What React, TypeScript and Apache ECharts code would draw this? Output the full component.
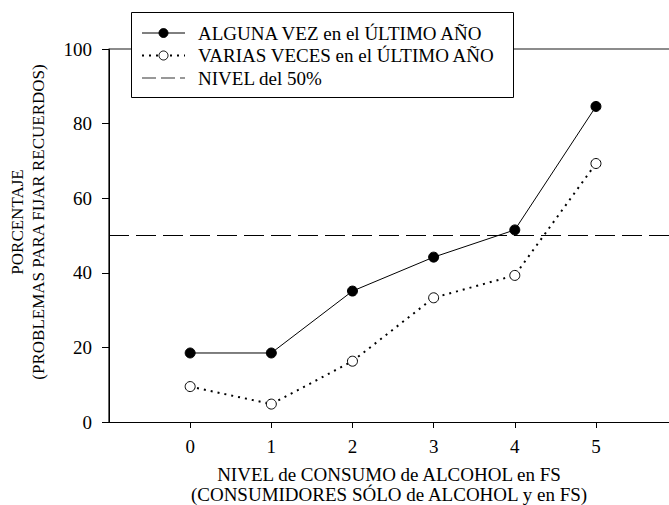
import React, { useEffect, useRef } from "react";
import * as echarts from "echarts";

const categories = [0, 1, 2, 3, 4, 5];
const algunaVez = [18.5, 18.5, 35.1, 44.2, 51.5, 84.6];
const variasVeces = [9.5, 4.8, 16.3, 33.3, 39.3, 69.3];
const nivel = 50;
const yTicks = [0, 20, 40, 60, 80, 100];
const seriesNames = [
  "ALGUNA VEZ en el ÚLTIMO AÑO",
  "VARIAS VECES en el ÚLTIMO AÑO",
  "NIVEL del 50%",
];
const xTitle = "NIVEL de CONSUMO de ALCOHOL en FS\n(CONSUMIDORES SÓLO de ALCOHOL y en FS)";
const yTitle = "PORCENTAJE\n(PROBLEMAS PARA FIJAR RECUERDOS)";

const FAMILY = "Liberation Serif";
const f = (size: number) => `${size}px ${FAMILY}`;

export default function App() {
  const ref = useRef<HTMLDivElement>(null);
  useEffect(() => {
    if (!ref.current) return;
    const chart = echarts.init(ref.current, undefined, { renderer: "svg" });
    const xMin = -1;
    const xMax = 5.9;
    chart.setOption({
      animation: false,
      backgroundColor: "#fff",
      textStyle: { fontFamily: FAMILY, color: "#000" },
      grid: { left: 109, right: 0, top: 49, bottom: 83, containLabel: false },
      xAxis: [
        {
          type: "value",
          min: xMin,
          max: xMax,
          axisLine: { show: true, onZero: false, lineStyle: { color: "#000", width: 1 } },
          axisTick: { show: true, length: 6, customValues: categories, lineStyle: { color: "#000" } },
          axisLabel: { show: false },
          splitLine: { show: false },
        },
        {
          type: "value",
          position: "top",
          min: xMin,
          max: xMax,
          axisLine: { show: true, onZero: false, lineStyle: { color: "#666", width: 1.5 } },
          axisTick: { show: false },
          axisLabel: { show: false },
          splitLine: { show: false },
        },
      ],
      yAxis: {
        type: "value",
        position: "left",
        min: yTicks[0],
        max: yTicks[yTicks.length - 1],
        interval: 20,
        axisLine: { show: true, onZero: false, lineStyle: { color: "#000", width: 1 } },
        axisTick: { show: true, length: 7, lineStyle: { color: "#000" } },
        axisLabel: { show: false },
        splitLine: { show: false },
      },
      series: [
        {
          name: seriesNames[0],
          type: "line",
          data: categories.map((c, i) => [c, algunaVez[i]]),
          symbol: "circle",
          symbolSize: 10,
          itemStyle: { color: "#000", borderColor: "#000", borderWidth: 1 },
          lineStyle: { color: "#000", width: 1 },
          z: 3,
        },
        {
          name: seriesNames[1],
          type: "line",
          data: categories.map((c, i) => [c, variasVeces[i]]),
          symbol: "circle",
          symbolSize: 10,
          itemStyle: { color: "#fff", borderColor: "#000", borderWidth: 1 },
          lineStyle: { color: "#000", width: 2, type: [2, 5] },
          z: 3,
        },
        {
          name: seriesNames[2],
          type: "line",
          data: [],
          symbol: "none",
          lineStyle: { color: "#000", width: 1, type: [20, 7] },
          markLine: {
            silent: true,
            symbol: "none",
            label: { show: false },
            lineStyle: { color: "#000", width: 1, type: [20, 7] },
            data: [{ yAxis: nivel }],
          },
        },
      ],
    });

    const finder = { xAxisIndex: 0, yAxisIndex: 0 };
    const [axisX, axisY] = chart.convertToPixel(finder, [xMin, yTicks[0]]) as number[];
    const [rightX, topY] = chart.convertToPixel(finder, [xMax, yTicks[yTicks.length - 1]]) as number[];

    const tickLabels: any[] = [];
    yTicks.forEach((v) => {
      const [, py] = chart.convertToPixel(finder, [xMin, v]) as number[];
      tickLabels.push({
        type: "text",
        x: axisX - 17,
        y: py,
        z: 10,
        style: { text: String(v), font: f(19), fill: "#000", align: "right", verticalAlign: "middle" },
      });
    });
    categories.forEach((c) => {
      const [px] = chart.convertToPixel(finder, [c, yTicks[0]]) as number[];
      tickLabels.push({
        type: "text",
        x: px,
        y: axisY + 24,
        z: 10,
        style: { text: String(c), font: f(19), fill: "#000", align: "center", verticalAlign: "middle" },
      });
    });

    const yAxisLine = {
      type: "rect",
      z: 15,
      shape: { x: Math.round(axisX) - 0.6, y: topY, width: 1.2, height: axisY - topY },
      style: { fill: "#000", stroke: "none" },
    };

    // legend box
    const lx = 131;
    const ly = 12;
    const rowY = [33, 55.5, 78];
    const sx0 = 142;
    const sx1 = 185;
    const sm = (sx0 + sx1) / 2;
    const tx = 198;
    const legend: any[] = [
      {
        type: "rect",
        z: 20,
        shape: { x: lx + 0.5, y: ly + 0.5, width: 382, height: 85 },
        style: { fill: "#fff", stroke: "#000", lineWidth: 1 },
      },
      {
        type: "line",
        z: 21,
        shape: { x1: sx0, y1: rowY[0], x2: sx1, y2: rowY[0] },
        style: { stroke: "#000", lineWidth: 1 },
      },
      {
        type: "circle",
        z: 22,
        shape: { cx: sm, cy: rowY[0], r: 4.5 },
        style: { fill: "#000", stroke: "#000", lineWidth: 1 },
      },
      {
        type: "line",
        z: 21,
        shape: { x1: sx0, y1: rowY[1], x2: sx1, y2: rowY[1] },
        style: { stroke: "#000", lineWidth: 2, lineDash: [2, 5] },
      },
      {
        type: "circle",
        z: 22,
        shape: { cx: sm, cy: rowY[1], r: 4.5 },
        style: { fill: "#fff", stroke: "#000", lineWidth: 1 },
      },
      {
        type: "line",
        z: 21,
        shape: { x1: sx0, y1: rowY[2], x2: sx1, y2: rowY[2] },
        style: { stroke: "#333", lineWidth: 1.2, lineDash: [14, 5] },
      },
      ...seriesNames.map((name, i) => ({
        type: "text",
        z: 22,
        x: tx,
        y: rowY[i],
        style: { text: name, font: f(19), fill: "#000", align: "left", verticalAlign: "middle" },
      })),
    ];

    chart.setOption({
      graphic: [
        yAxisLine,
        ...tickLabels,
        ...legend,
        {
          type: "text",
          x: 27.5,
          y: 222,
          rotation: Math.PI / 2,
          style: {
            text: yTitle,
            font: f(17),
            fill: "#000",
            align: "center",
            verticalAlign: "middle",
            lineHeight: 21,
          },
        },
        {
          type: "text",
          x: (axisX + rightX) / 2,
          y: 484,
          style: {
            text: xTitle,
            font: f(19),
            fill: "#000",
            align: "center",
            verticalAlign: "middle",
            lineHeight: 20,
          },
        },
      ],
    });
    return () => chart.dispose();
  }, []);
  return <div ref={ref} style={{ width: 669, height: 505, position: "absolute", left: 0, top: 0 }} />;
}
